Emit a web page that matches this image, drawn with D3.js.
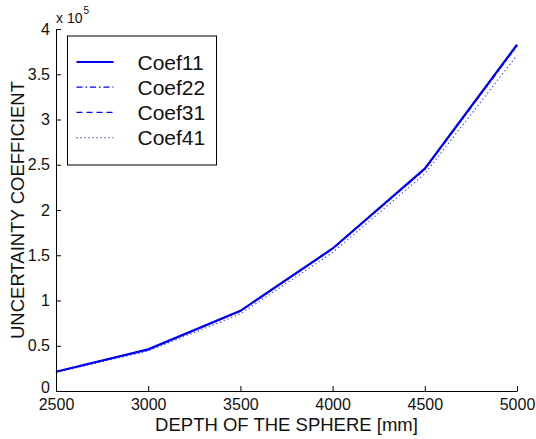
<!DOCTYPE html>
<html>
<head>
<meta charset="utf-8">
<script src="https://cdn.jsdelivr.net/npm/d3@7"></script>
<style>
  body { margin: 0; background: #fff; }
  svg { font-family: "Liberation Sans", Arial, sans-serif; }
</style>
</head>
<body>
<div id="wrapper"></div>
<script>
// depth of the sphere [mm]
var depths = [2500, 3000, 3500, 4000, 4500, 5000]
// uncertainty coefficient, in units of 1e5
var coef11 = [0.213, 0.460, 0.886, 1.575, 2.457, 3.826]
var coef22 = [0.212, 0.458, 0.883, 1.570, 2.450, 3.815]
var coef31 = [0.213, 0.459, 0.885, 1.573, 2.455, 3.822]
var coef41 = [0.205, 0.442, 0.852, 1.530, 2.400, 3.710]
var seriesNames = ["Coef11", "Coef22", "Coef31", "Coef41"]
var xTicks = [2500, 3000, 3500, 4000, 4500, 5000]
var yTicks = [0, 0.5, 1, 1.5, 2, 2.5, 3, 3.5, 4]

var dimension = {
    width: 536,
    height: 439,
    margin: { top: 29, right: 19, bottom: 48, left: 56 }
}
dimension.boundedWidth = dimension.width - dimension.margin.left - dimension.margin.right
dimension.boundedHeight = dimension.height - dimension.margin.top - dimension.margin.bottom

var styles = [
    { color: "#0000ff", width: 2.2, dash: null, opacity: 1 },
    { color: "#0000ff", width: 1.3, dash: "6,3,1.5,3", opacity: 1 },
    { color: "#0000ff", width: 1.3, dash: "6,4", opacity: 1 },
    { color: "#3c3cff", width: 1.2, dash: "1.2,2.8", opacity: 1 }
]

var svg = d3.select("#wrapper")
    .append("svg")
    .attr("width", dimension.width)
    .attr("height", dimension.height)

var g = svg.append("g")
    .attr("transform", `translate(${dimension.margin.left},${dimension.margin.top})`)

var x = d3.scaleLinear()
    .domain([2500, 5000])
    .range([0, dimension.boundedWidth])

var y = d3.scaleLinear()
    .domain([0, 4])
    .range([dimension.boundedHeight, 0])

var series = [coef11, coef22, coef31, coef41].map((vals, i) => ({
    name: seriesNames[i],
    values: vals.map((v, j) => ({ x: depths[j], y: v })),
    style: styles[i]
}))

var line = d3.line()
    .x(d => x(d.x))
    .y(d => y(d.y))

// draw dotted first so the solid sits on top
g.append("g")
    .selectAll("path")
    .data(series.slice().reverse())
    .enter()
    .append("path")
    .attr("d", d => line(d.values))
    .attr("fill", "none")
    .attr("stroke", d => d.style.color)
    .attr("stroke-width", d => d.style.width)
    .attr("stroke-dasharray", d => d.style.dash)
    .attr("opacity", d => d.style.opacity)

// axes
var xAxis = d3.axisBottom(x)
    .tickValues(xTicks)
    .tickSizeInner(-5)
    .tickSizeOuter(0)
    .tickPadding(8)
    .tickFormat(d3.format("d"))

var yAxis = d3.axisLeft(y)
    .tickValues(yTicks)
    .tickSizeInner(-5)
    .tickSizeOuter(0)
    .tickPadding(6)
    .tickFormat(d => d3.format("")(d))

var gx = g.append("g")
    .attr("transform", `translate(0,${dimension.boundedHeight})`)
    .call(xAxis)
var gy = g.append("g").call(yAxis)

;[gx, gy].forEach(a => {
    a.selectAll("path").attr("stroke", "#000").attr("stroke-width", 1)
    a.selectAll("line").attr("stroke", "#000")
    a.selectAll("text")
        .attr("fill", "#111")
        .style("font-size", "16px")
        .style("font-family", "Liberation Sans, Arial, sans-serif")
})
// lift the "0" a little so it clears "2500"
gy.selectAll(".tick text").filter(d => d === 0).attr("dy", "0.1em")

// exponent label
var expo = g.append("text")
    .attr("x", 0)
    .attr("y", -6)
    .attr("fill", "#111")
    .style("font-size", "14px")
expo.append("tspan").text("x 10")
expo.append("tspan")
    .attr("dy", -9)
    .attr("dx", 1)
    .style("font-size", "10px")
    .text("5")

// axis titles
svg.append("text")
    .attr("x", dimension.margin.left + dimension.boundedWidth / 2)
    .attr("y", 430.5)
    .attr("text-anchor", "middle")
    .attr("fill", "#111")
    .style("font-size", "18.5px")
    .text("DEPTH OF THE SPHERE [mm]")

svg.append("text")
    .attr("transform", `translate(24,${dimension.margin.top + dimension.boundedHeight / 2}) rotate(-90)`)
    .attr("text-anchor", "middle")
    .attr("fill", "#111")
    .style("font-size", "18.5px")
    .text("UNCERTAINTY COEFFICIENT")

// legend
var legend = svg.append("g").attr("transform", "translate(67.5,36)")
legend.append("rect")
    .attr("width", 149)
    .attr("height", 129)
    .attr("fill", "#fff")
    .attr("stroke", "#000")
    .attr("stroke-width", 1)

var rows = legend.selectAll("g.row")
    .data(series)
    .enter()
    .append("g")
    .attr("class", "row")
    .attr("transform", (d, i) => `translate(0,${26 + i * 25.2})`)

rows.append("line")
    .attr("x1", 9)
    .attr("x2", 46)
    .attr("stroke", d => d.style.color)
    .attr("stroke-width", d => d.style.width)
    .attr("stroke-dasharray", d => d.style.dash)
    .attr("opacity", d => d.style.opacity)

rows.append("text")
    .attr("x", 70)
    .attr("y", 7.5)
    .attr("fill", "#111")
    .style("font-size", "21px")
    .text(d => d.name)
</script>
</body>
</html>
